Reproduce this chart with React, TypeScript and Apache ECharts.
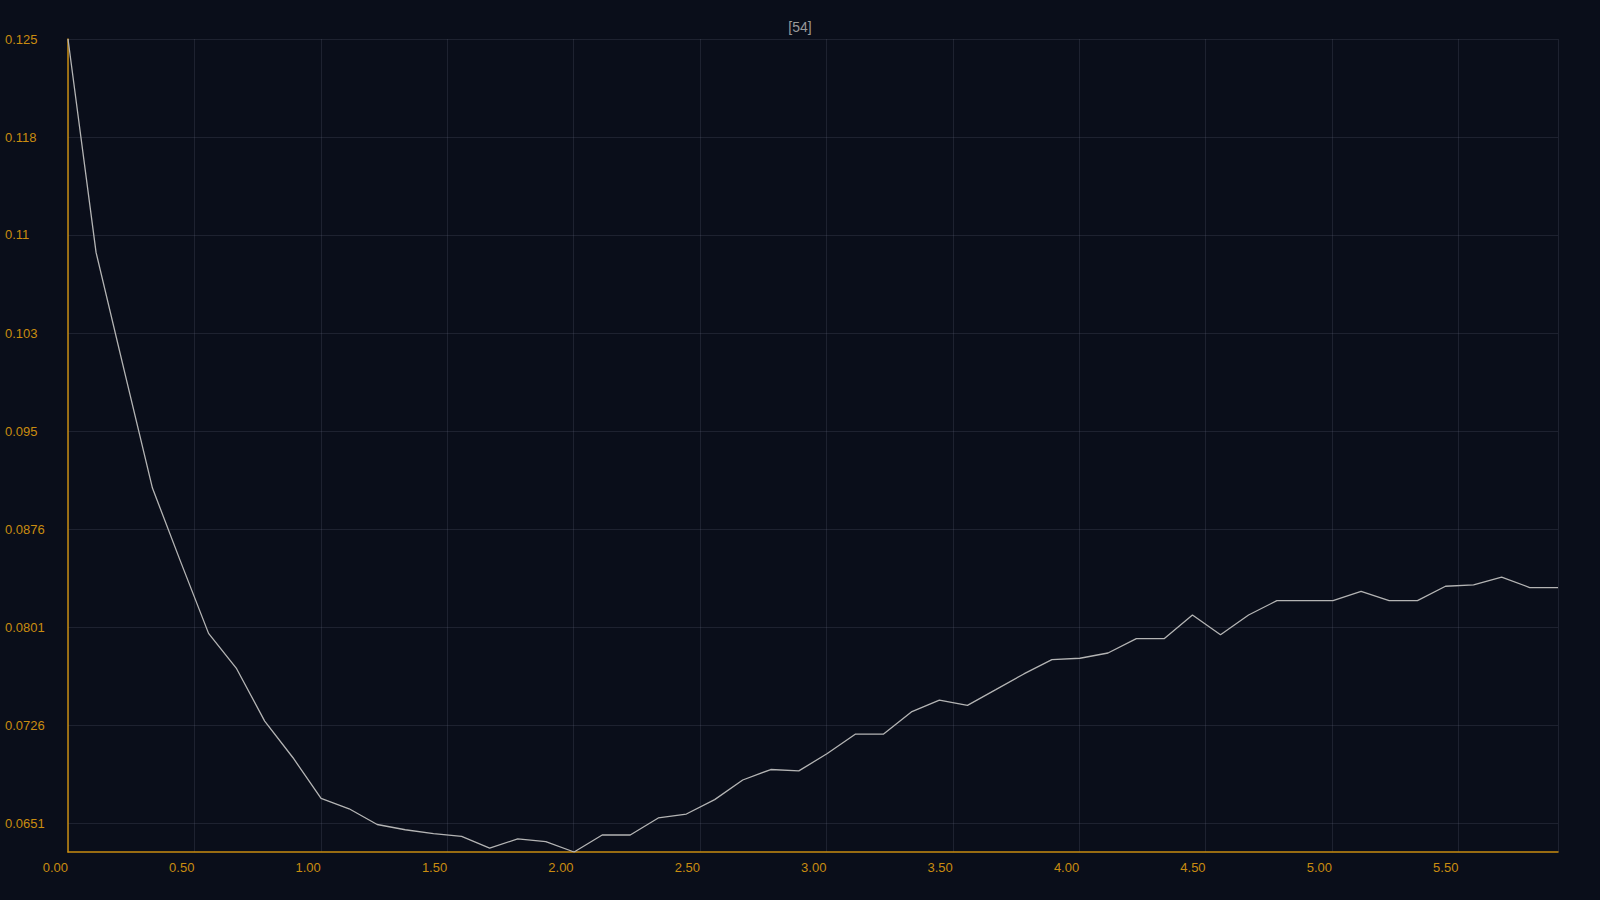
import React, { useEffect, useRef } from "react";
import * as echarts from "echarts";

const TITLE = "[54]";

const xValues = [
  0.0, 0.111, 0.222, 0.334, 0.445, 0.556, 0.667, 0.778, 0.89, 1.001,
  1.112, 1.223, 1.334, 1.446, 1.557, 1.668, 1.779, 1.89, 2.002, 2.113,
  2.224, 2.335, 2.446, 2.558, 2.669, 2.78, 2.891, 3.002, 3.114, 3.225,
  3.336, 3.447, 3.558, 3.67, 3.781, 3.892, 4.003, 4.114, 4.226, 4.337,
  4.448, 4.559, 4.67, 4.782, 4.893, 5.004, 5.115, 5.226, 5.338, 5.449,
  5.56, 5.671, 5.782, 5.894,
];

const yValues = [
  0.125, 0.1087, 0.0997, 0.0907, 0.0851, 0.0796, 0.0769, 0.0729, 0.0701, 0.067,
  0.0662, 0.065, 0.0646, 0.0643, 0.0641, 0.0632, 0.0639, 0.0637, 0.0629, 0.0642,
  0.0642, 0.0655, 0.0658, 0.0669, 0.0684, 0.0692, 0.0691, 0.0704, 0.0719, 0.0719,
  0.0736, 0.0745, 0.0741, 0.0753, 0.0765, 0.0776, 0.0777, 0.0781, 0.0792, 0.0792,
  0.081, 0.0795, 0.081, 0.0821, 0.0821, 0.0821, 0.0828, 0.0821, 0.0821, 0.0832,
  0.0833, 0.0839, 0.0831, 0.0831,
];

const yTicks = [0.0651, 0.07259, 0.08007, 0.08756, 0.09505, 0.10254, 0.11003, 0.11751, 0.125];

const ORANGE = "#c98c10";
const GRID = "rgba(120, 130, 150, 0.18)";

export default function App() {
  const ref = useRef<HTMLDivElement>(null);

  useEffect(() => {
    if (!ref.current) return;
    const chart = echarts.init(ref.current, null, { renderer: "svg" });
    chart.setOption({
      animation: false,
      backgroundColor: "#0a0e1a",
      title: {
        text: TITLE,
        left: "center",
        top: 15,
        textStyle: { color: "#9a9a9a", fontSize: 14, fontWeight: "normal", fontFamily: "Liberation Sans" },
      },
      grid: { left: 68, right: 42, top: 39, bottom: 48 },
      xAxis: {
        type: "value",
        min: 0,
        max: xValues[xValues.length - 1],
        interval: 0.5,
        axisLine: { lineStyle: { color: ORANGE, width: 1.5 } },
        axisTick: { show: false },
        axisLabel: {
          color: ORANGE,
          fontSize: 13,
          fontFamily: "Liberation Sans",
          align: "right",
          margin: 9,
          showMaxLabel: false,
          formatter: (v: number) => v.toFixed(2),
        },
        splitLine: { show: true, lineStyle: { color: GRID, width: 1 } },
      },
      yAxis: {
        type: "value",
        min: 0.0629,
        max: 0.125,
        axisLine: { show: true, lineStyle: { color: ORANGE, width: 1.5 } },
        axisTick: { show: false, customValues: yTicks },
        axisLabel: {
          customValues: yTicks,
          color: ORANGE,
          fontSize: 13,
          fontFamily: "Liberation Sans",
          align: "left",
          margin: 63,
          formatter: (v: number) => String(parseFloat(v.toPrecision(3))),
        },
        splitLine: { show: true, lineStyle: { color: GRID, width: 1 } },
      },
      series: [
        {
          type: "line",
          data: xValues.map((x, i) => [x, yValues[i]]),
          showSymbol: false,
          lineStyle: { color: "#b4b4b4", width: 1.3 },
        },
      ],
    });
    return () => chart.dispose();
  }, []);

  return (
    <div
      ref={ref}
      style={{ position: "fixed", left: 0, top: 0, width: 1600, height: 900 }}
    />
  );
}
